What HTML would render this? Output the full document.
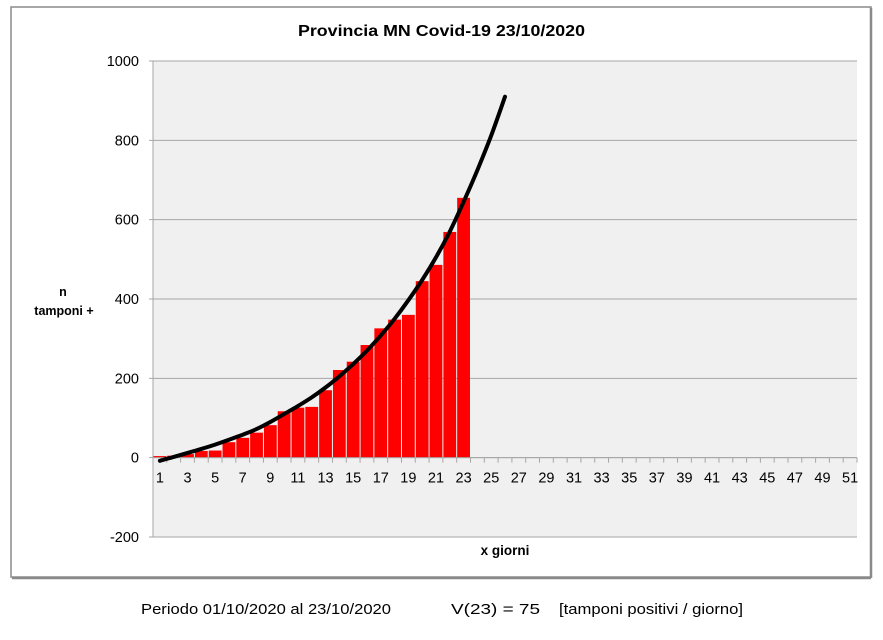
<!DOCTYPE html>
<html><head><meta charset="utf-8"><style>
body{margin:0;background:#fff;width:883px;height:635px;overflow:hidden;font-family:"Liberation Sans","DejaVu Sans",sans-serif}
</style></head><body>
<svg width="883" height="635">
<rect x="11" y="7" width="860" height="570" fill="#fff" stroke="#8a8a8a" stroke-width="1.5"/>
<line x1="871" y1="8" x2="871" y2="578" stroke="#8a8a8a" stroke-width="2.5"/>
<line x1="12" y1="578" x2="871" y2="578" stroke="#8a8a8a" stroke-width="2.5"/>
<text x="298" y="36" textLength="287" lengthAdjust="spacingAndGlyphs" font-size="16" font-weight="bold">Provincia MN Covid-19  23/10/2020</text>
<rect x="153" y="61" width="704" height="476" fill="#f0f0f0"/>
<g id="grid"></g><g id="bars"></g><g id="ticks"></g><g id="trend"></g>
<text x="63" y="296" text-anchor="middle" font-size="12.5" font-weight="bold"><tspan x="63">n</tspan><tspan x="64" dy="19">tamponi +</tspan></text>
<text x="505" y="555" text-anchor="middle" font-size="13.5" font-weight="bold">x giorni</text>
<text x="141" y="614" textLength="250" lengthAdjust="spacingAndGlyphs" font-size="15">Periodo 01/10/2020 al 23/10/2020</text>
<text x="451" y="614" textLength="89" lengthAdjust="spacingAndGlyphs" font-size="15">V(23) = 75</text>
<text x="559" y="614" textLength="184" lengthAdjust="spacingAndGlyphs" font-size="15">[tamponi positivi / giorno]</text>
</svg>
<script>
const days=[1,2,3,4,5,6,7,8,9,10,11,12,13,14,15,16,17,18,19,20,21,22,23];
const positives=[4,5,9,17,18,39,50,63,82,117,126,128,170,221,242,284,326,348,360,445,486,569,655];
const trendDays=[1,2,3,4,5,6,7,8,9,10,11,12,13,14,15,16,17,18,19,20,21,22,23,24,25,26];
const trendValues=[-8,2,12,22,33,45,58,72,90,110,130,152,177,205,236,270,308,350,397,448,505,570,645,725,812,910];
const yTicks=[-200,0,200,400,600,800,1000];
const nCats=51;
const NS="http://www.w3.org/2000/svg";
const L=153,R=857,T=61,B=537,ymin=-200,ymax=1000;
const cw=(R-L)/nCats;
const yS=v=>B-(v-ymin)/(ymax-ymin)*(B-T);
const xC=d=>L+(d-0.5)*cw;
function mk(tag,attrs,parent){const e=document.createElementNS(NS,tag);for(const k in attrs)e.setAttribute(k,attrs[k]);parent.appendChild(e);return e;}
const grid=document.getElementById('grid'),bars=document.getElementById('bars'),ticks=document.getElementById('ticks'),trend=document.getElementById('trend');
yTicks.forEach(v=>{
 const y=yS(v);
 const g=mk('line',{x1:149,x2:R,y1:y,y2:y,stroke:'#a6a6a6','stroke-width':1},grid);
 
 
 const t=mk('text',{x:139,y:y+5,'text-anchor':'end','font-size':14.5},grid);
 t.textContent=v;
 
 
});
mk('line',{x1:L,x2:L,y1:T,y2:B,stroke:'#a6a6a6'},grid);
days.forEach((d,i)=>{
 const v=positives[i];
 const r=mk('rect',{x:L+(d-1)*cw+0.5,width:cw-1,y:yS(v),height:yS(0)-yS(v),fill:'#ff0000'},bars);
 
 
});
const y0=yS(0);
mk('line',{x1:L,x2:R,y1:y0,y2:y0,stroke:'#a6a6a6'},ticks);
for(let i=0;i<=nCats;i++){
 const x=L+i*cw;
 mk('line',{x1:x,x2:x,y1:y0,y2:y0+5,stroke:'#a6a6a6'},ticks);
}
for(let d=1;d<=nCats;d+=2){
 const t=mk('text',{x:xC(d),y:y0+25,'text-anchor':'middle','font-size':14.5},ticks);
 t.textContent=d;
 
 
}
const pts=trendDays.map((d,i)=>[xC(d),yS(trendValues[i])]);
let dpath='M'+pts[0][0].toFixed(1)+','+pts[0][1].toFixed(1);
for(let i=0;i<pts.length-1;i++){
 const p0=pts[Math.max(0,i-1)],p1=pts[i],p2=pts[i+1],p3=pts[Math.min(pts.length-1,i+2)];
 const c1=[p1[0]+(p2[0]-p0[0])/6,p1[1]+(p2[1]-p0[1])/6];
 const c2=[p2[0]-(p3[0]-p1[0])/6,p2[1]-(p3[1]-p1[1])/6];
 dpath+='C'+c1.map(v=>v.toFixed(1)).join(',')+' '+c2.map(v=>v.toFixed(1)).join(',')+' '+p2.map(v=>v.toFixed(1)).join(',');
}
const p=mk('path',{d:dpath,fill:'none',stroke:'#000','stroke-width':4,'stroke-linejoin':'round','stroke-linecap':'round'},trend);


</script>
</body></html>
